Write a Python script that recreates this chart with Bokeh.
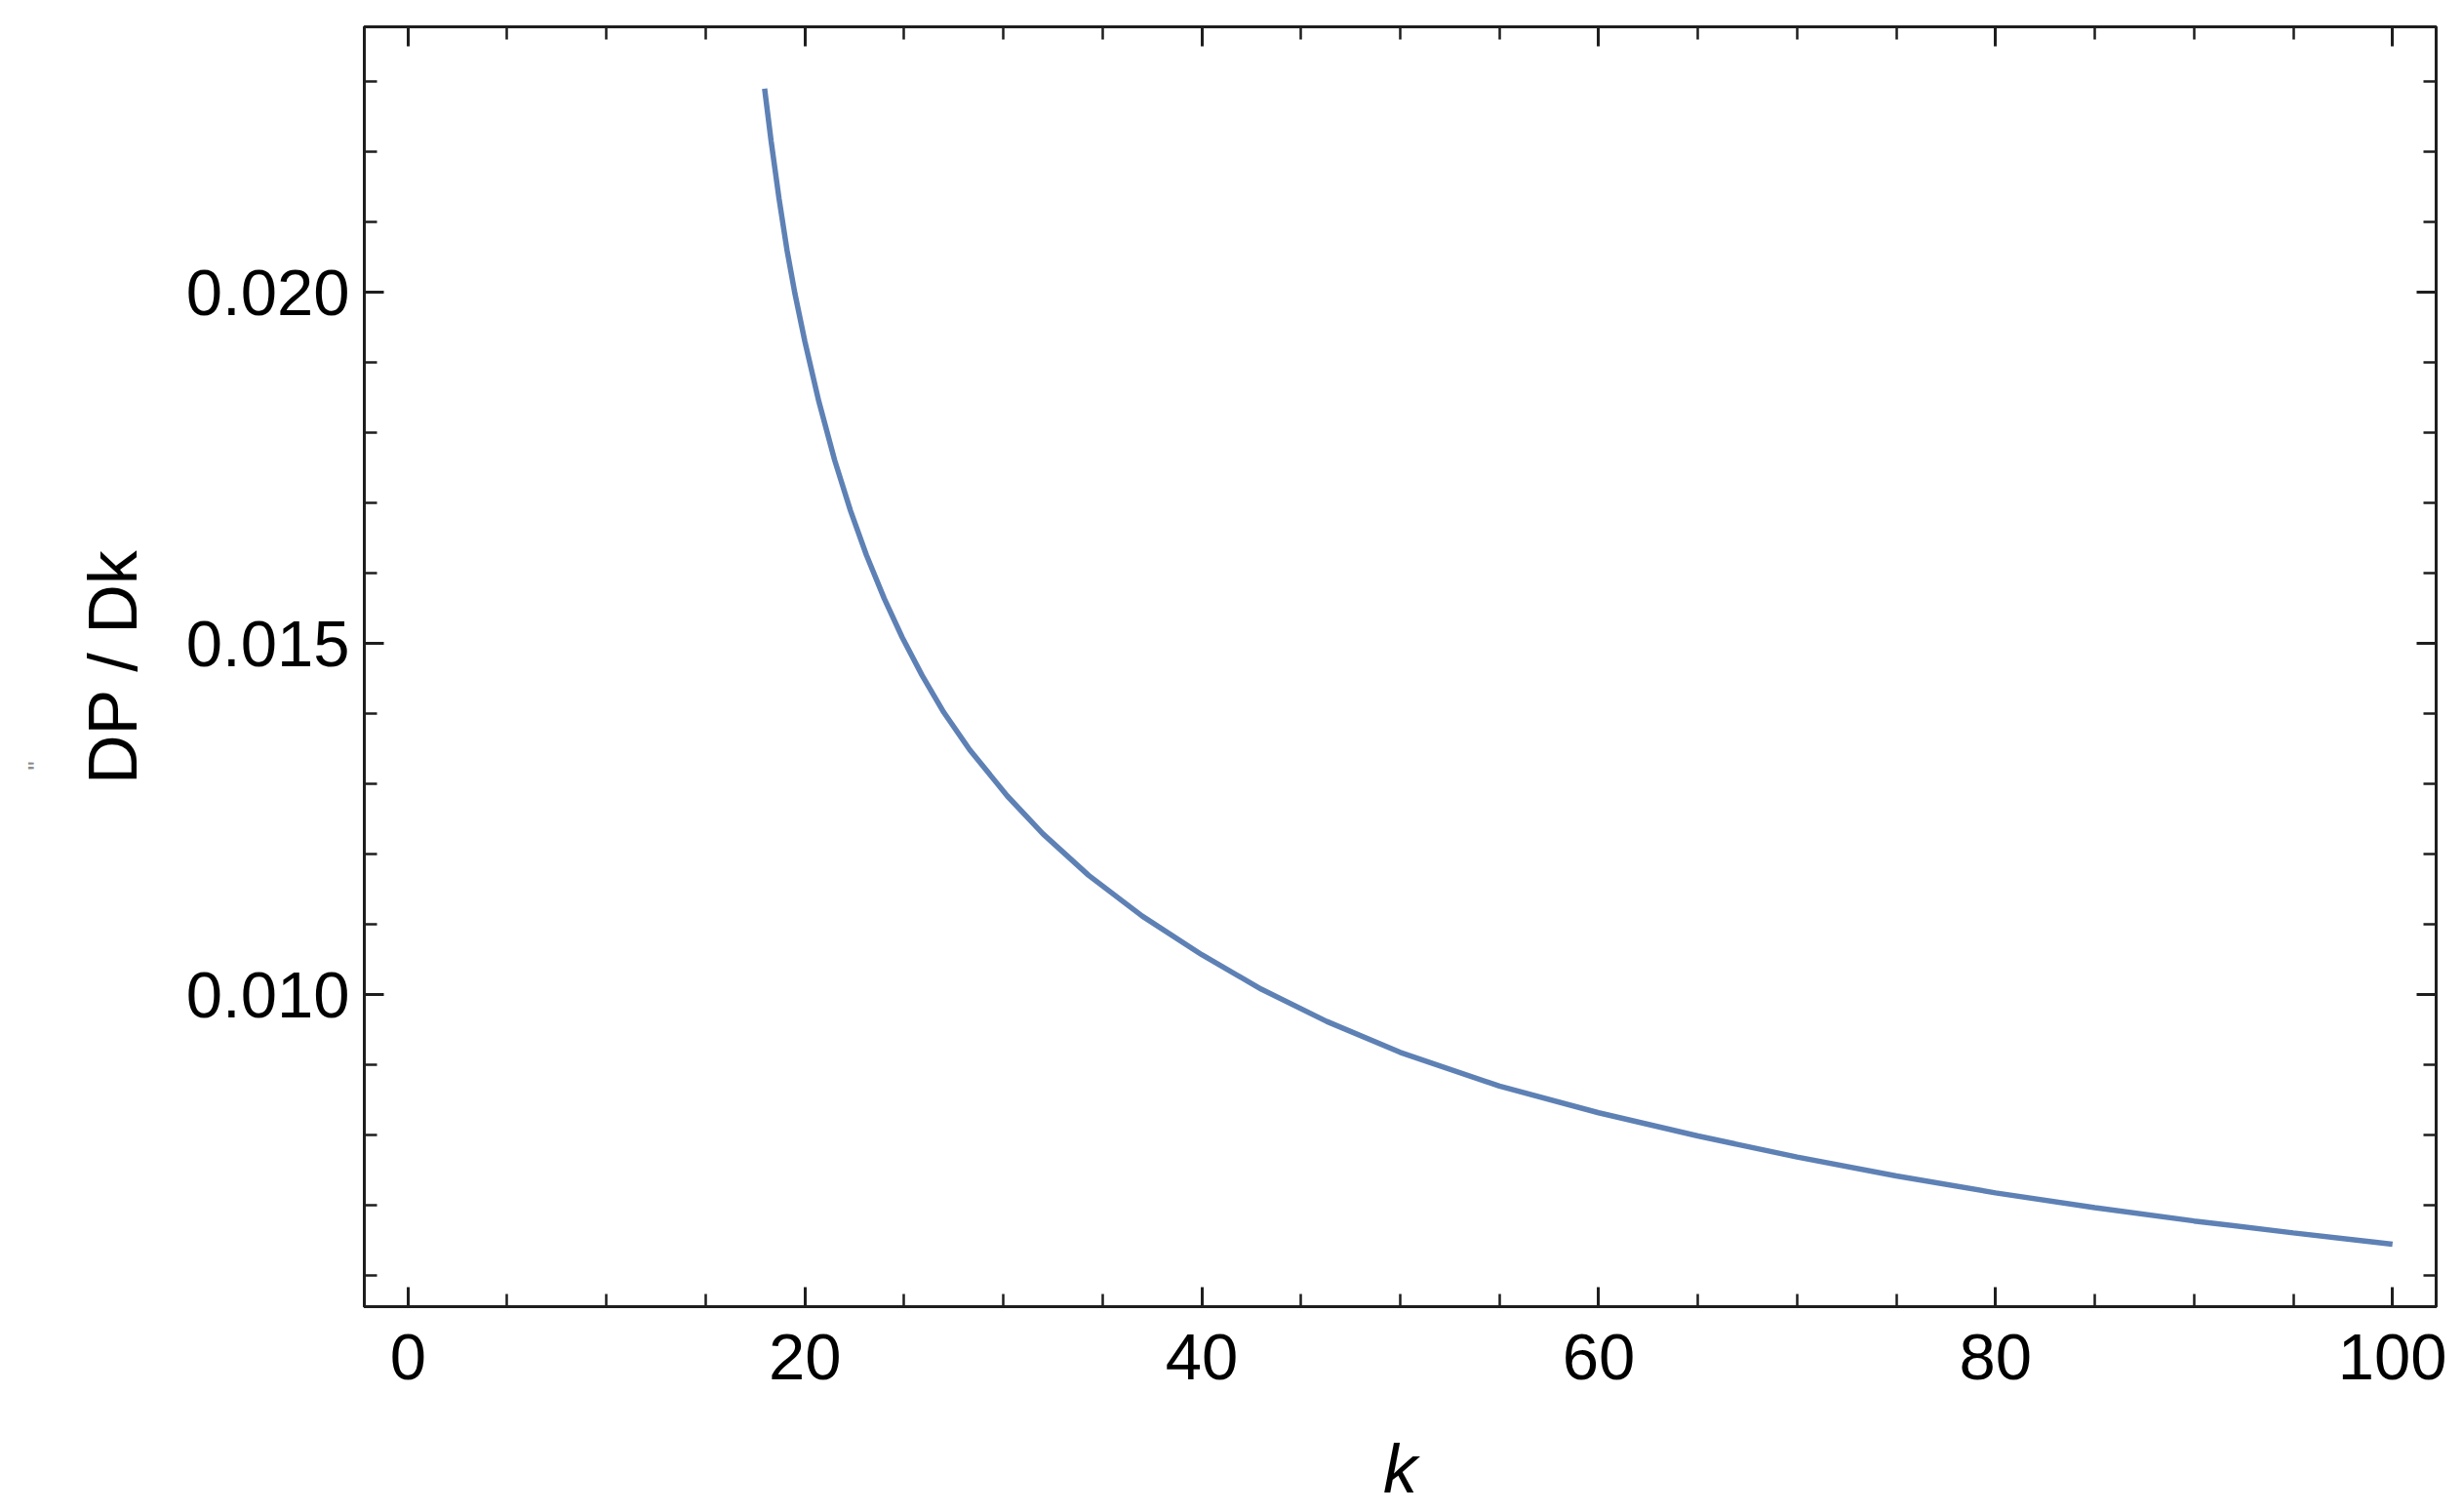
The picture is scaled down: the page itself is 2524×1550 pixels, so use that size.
from bokeh.plotting import figure
from bokeh.models import Range1d, LinearAxis, FixedTicker, Title, CustomJSTickFormatter
from bokeh.embed import file_html
from bokeh.resources import INLINE

# ---- data ----
k_values = [17.97, 18.3, 18.7, 19.1, 19.5, 20.0, 20.7, 21.5, 22.3, 23.1, 24.0, 24.9,
            25.9, 27.0, 28.3, 30.2, 32.0, 34.3, 37.0, 40.0, 43.0, 46.3, 50.0, 55.0,
            60.0, 65.0, 70.0, 75.0, 80.0, 85.0, 90.0, 95.0, 100.0]
dpdk_values = [0.02290, 0.02215, 0.02133, 0.02060, 0.01998, 0.01930, 0.01845, 0.01761,
               0.01689, 0.01626, 0.01564, 0.01509, 0.01455, 0.01402, 0.01349, 0.01283,
               0.01229, 0.01170, 0.01112, 0.01057, 0.01008, 0.00962, 0.00918, 0.00870,
               0.00832, 0.00799, 0.00769, 0.00742, 0.00718, 0.00697, 0.00678, 0.00661,
               0.00645]

x_major_ticks = [0, 20, 40, 60, 80, 100]
x_minor_ticks = [5, 10, 15, 25, 30, 35, 45, 50, 55, 65, 70, 75, 85, 90, 95]
y_major_ticks = [0.010, 0.015, 0.020]
y_major_labels = ["0.010", "0.015", "0.020"]
y_minor_ticks = [0.006, 0.007, 0.008, 0.009, 0.011, 0.012, 0.013, 0.014,
                 0.016, 0.017, 0.018, 0.019, 0.021, 0.022, 0.023]

x_label = "k"
y_label = "DP / Dk"

FONT = "Liberation Sans"
FRAME = "#1e1e1e"
CURVE = "#5E81B5"

p = figure(width=2524, height=1550, output_backend="svg", toolbar_location=None,
           x_range=Range1d(-2.2, 102.2), y_range=Range1d(0.00556, 0.02378),
           min_border_left=372, min_border_right=27, min_border_top=27,
           min_border_bottom=211)
p.xgrid.visible = False
p.ygrid.visible = False
p.outline_line_color = FRAME
p.outline_line_width = 3
p.background_fill_color = "white"
p.border_fill_color = "white"


def style(ax, major, minor, labels=True):
    ax.ticker = FixedTicker(ticks=major, minor_ticks=minor)
    ax.axis_line_color = FRAME
    ax.axis_line_width = 3
    ax.major_tick_line_color = FRAME
    ax.minor_tick_line_color = FRAME
    ax.major_tick_line_width = 3
    ax.minor_tick_line_width = 2.5
    ax.major_tick_in = 20
    ax.major_tick_out = 0
    ax.minor_tick_in = 13
    ax.minor_tick_out = 0
    ax.major_label_text_font = FONT
    ax.major_label_text_font_size = "67px"
    ax.major_label_text_color = "black"
    ax.axis_label_text_font = FONT
    ax.axis_label_text_font_size = "70px"
    ax.axis_label_text_color = "black"
    if not labels:
        ax.formatter = CustomJSTickFormatter(code="return ''")
        ax.major_label_standoff = 0


xa = p.xaxis[0]
style(xa, x_major_ticks, x_minor_ticks)
xa.major_label_standoff = 28
xa.axis_label = x_label
xa.axis_label_text_font_style = "italic"
xa.axis_label_standoff = 50

ya = p.yaxis[0]
style(ya, y_major_ticks, y_minor_ticks)
ya.major_label_overrides = {t: s for t, s in zip(y_major_ticks, y_major_labels)}
ya.major_label_standoff = 15
ya.axis_label = y_label
ya.axis_label_text_font_style = "normal"
ya.axis_label_standoff = 33

top = LinearAxis()
style(top, x_major_ticks, x_minor_ticks, labels=False)
p.add_layout(top, "above")

right = LinearAxis()
style(right, y_major_ticks, y_minor_ticks, labels=False)
p.add_layout(right, "right")

p.line(k_values, dpdk_values, line_color=CURVE, line_width=5.5)

# small rotated quote mark left of the y label (as in the original)
p.add_layout(Title(text='"', align="left", offset=550, standoff=41,
                   text_font=FONT, text_font_size="26px", text_font_style="normal",
                   text_color="#8a8a8a"), "left")

open("out.html", "w").write(file_html(p, INLINE))
